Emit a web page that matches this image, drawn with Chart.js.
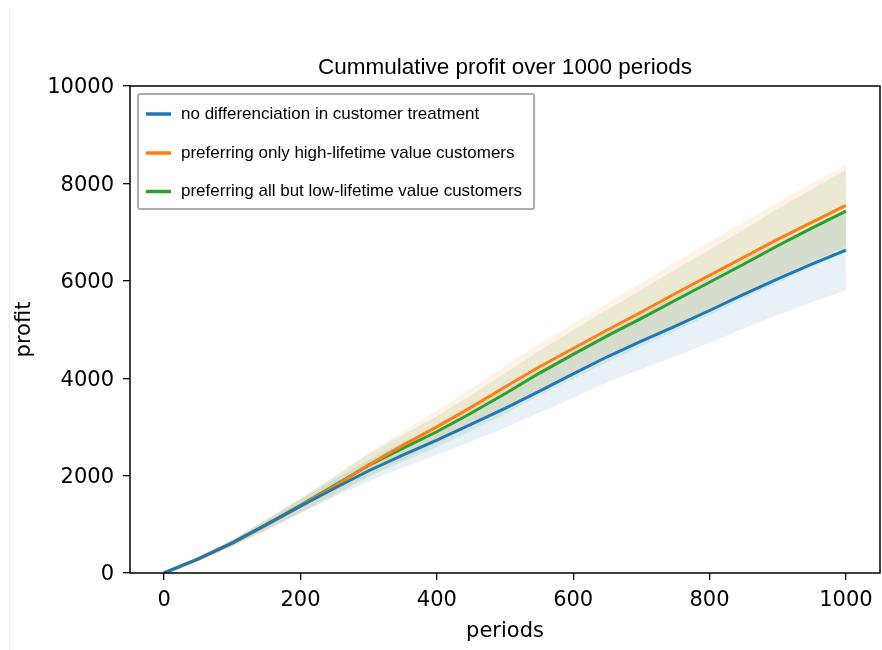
<!DOCTYPE html>
<html lang="en">
<head>
  <meta charset="UTF-8" />
  <title>Cummulative profit over 1000 periods</title>
  <script src="https://cdn.jsdelivr.net/npm/chart.js"></script>
  <style>
    body { margin: 0; background: #fff; }
    #wrap { position: relative; width: 882px; height: 650px; }
    #edge { position: absolute; left: 9px; top: 10px; width: 1px; height: 640px; background: #ececec; }
  </style>
</head>
<body>
  <div id="wrap">
    <div id="edge"></div>
    <canvas id="chart" width="882" height="650"></canvas>
  </div>

  <script>
    const chartTitle = 'Cummulative profit over 1000 periods';
    const seriesLabels = [
      'no differenciation in customer treatment',
      'preferring only high-lifetime value customers',
      'preferring all but low-lifetime value customers'
    ];
    const colors = ['#1f77b4', '#ff7f0e', '#2ca02c'];
    const bandColors = ['rgba(31,119,180,0.1)', 'rgba(255,127,14,0.1)', 'rgba(44,160,44,0.1)'];

    const xTicks = [0, 200, 400, 600, 800, 1000];
    const yTicks = [0, 2000, 4000, 6000, 8000, 10000];

    const periods = [0, 50, 100, 150, 200, 250, 300, 350, 400, 450, 500, 550, 600, 650, 700, 750, 800, 850, 900, 950, 1000];

    // mean cumulative profit
    const noDiff    = [0, 290, 620, 990, 1370, 1740, 2100, 2420, 2730, 3050, 3380, 3730, 4090, 4440, 4760, 5070, 5390, 5720, 6040, 6340, 6630];
    const highOnly  = [0, 280, 610, 980, 1370, 1780, 2220, 2620, 3000, 3400, 3820, 4230, 4610, 4990, 5360, 5740, 6110, 6480, 6850, 7200, 7550];
    const allButLow = [0, 290, 620, 1000, 1390, 1800, 2210, 2560, 2900, 3280, 3680, 4100, 4490, 4870, 5230, 5600, 5970, 6340, 6720, 7080, 7430];

    // spread of the shaded band (+/-)
    const noDiffSd    = [0, 30, 60, 100, 140, 180, 220, 260, 300, 350, 400, 440, 490, 530, 570, 620, 660, 700, 740, 780, 820];
    const highOnlySd  = [0, 35, 70, 110, 150, 190, 240, 290, 330, 380, 430, 470, 510, 550, 590, 640, 680, 720, 760, 800, 840];
    const allButLowSd = [0, 35, 70, 110, 150, 190, 240, 280, 320, 370, 420, 460, 500, 540, 580, 630, 670, 710, 760, 800, 850];

    const means = [noDiff, highOnly, allButLow];
    const spreads = [noDiffSd, highOnlySd, allButLowSd];

    const toPoints = arr => arr.map((y, i) => ({ x: periods[i], y }));

    const datasets = [];
    means.forEach((m, k) => {
      datasets.push({
        label: seriesLabels[k],
        data: toPoints(m),
        borderColor: colors[k],
        borderWidth: 3,
        pointRadius: 0,
        fill: false,
        order: 0
      });
    });
    means.forEach((m, k) => {
      const lowIndex = datasets.length;
      datasets.push({
        label: 'low',
        data: toPoints(m.map((v, i) => v - spreads[k][i])),
        borderWidth: 0,
        pointRadius: 0,
        fill: false,
        order: 1
      });
      datasets.push({
        label: 'high',
        data: toPoints(m.map((v, i) => v + spreads[k][i])),
        borderWidth: 0,
        pointRadius: 0,
        backgroundColor: bandColors[k],
        fill: lowIndex,
        order: 1
      });
    });

    const decorations = {
      id: 'decorations',
      afterDraw(chart) {
        const { ctx, chartArea: a } = chart;
        ctx.save();

        // axes frame
        ctx.strokeStyle = '#000';
        ctx.lineWidth = 1.5;
        ctx.strokeRect(a.left, a.top, a.right - a.left, a.bottom - a.top);

        // title
        ctx.fillStyle = '#000';
        ctx.font = '22.5px "Liberation Sans", Arial, sans-serif';
        ctx.textAlign = 'center';
        ctx.textBaseline = 'alphabetic';
        ctx.fillText(chartTitle, (a.left + a.right) / 2, 74);

        // legend box
        ctx.font = '17px "Liberation Sans", Arial, sans-serif';
        const lx = a.left + 8, ly = a.top + 8;
        const textX = lx + 43;
        const maxW = Math.max(...seriesLabels.map(s => ctx.measureText(s).width));
        const boxW = textX - lx + maxW + 12;
        const boxH = 115;
        ctx.fillStyle = '#fff';
        ctx.strokeStyle = '#a8adb4';
        ctx.lineWidth = 2;
        ctx.beginPath();
        ctx.roundRect(lx, ly, boxW, boxH, 2);
        ctx.fill();
        ctx.stroke();

        const rows = [ly + 20, ly + 59, ly + 97.5];
        ctx.textAlign = 'left';
        ctx.textBaseline = 'middle';
        seriesLabels.forEach((label, k) => {
          ctx.strokeStyle = colors[k];
          ctx.lineWidth = 3.5;
          ctx.beginPath();
          ctx.moveTo(lx + 8, rows[k]);
          ctx.lineTo(lx + 33, rows[k]);
          ctx.stroke();
          ctx.fillStyle = '#000';
          ctx.fillText(label, textX, rows[k]);
        });
        ctx.restore();
      }
    };

    const tickFont = { family: '"DejaVu Sans", sans-serif', size: 21 };

    new Chart(document.getElementById('chart'), {
      type: 'line',
      data: { datasets },
      options: {
        responsive: false,
        animation: false,
        devicePixelRatio: 1,
        layout: { padding: { top: 86, right: 2, left: 0, bottom: 0 } },
        plugins: {
          legend: { display: false },
          title: { display: false },
          tooltip: { enabled: false }
        },
        scales: {
          x: {
            type: 'linear',
            min: -50,
            max: 1050,
            afterFit: s => { s.height = 77; },
            afterBuildTicks: s => { s.ticks = xTicks.map(v => ({ value: v })); },
            grid: { display: true, drawOnChartArea: false, drawTicks: true, tickLength: 7, color: '#000', lineWidth: 1.3 },
            border: { display: false },
            ticks: { color: '#000', font: tickFont, padding: 8, maxRotation: 0, callback: v => String(v) },
            title: { display: true, text: 'periods', color: '#000', font: tickFont, padding: { top: 0, bottom: 6 } }
          },
          y: {
            min: 0,
            max: 10000,
            afterFit: s => { s.width = 130; },
            afterBuildTicks: s => { s.ticks = yTicks.map(v => ({ value: v })); },
            grid: { display: true, drawOnChartArea: false, drawTicks: true, tickLength: 7, color: '#000', lineWidth: 1.3 },
            border: { display: false },
            ticks: { color: '#000', font: tickFont, padding: 9, labelOffset: 2, callback: v => String(v) },
            title: { display: true, text: 'profit', color: '#000', font: tickFont, padding: { top: 12, bottom: 0 } }
          }
        }
      },
      plugins: [decorations]
    });
  </script>
</body>
</html>
